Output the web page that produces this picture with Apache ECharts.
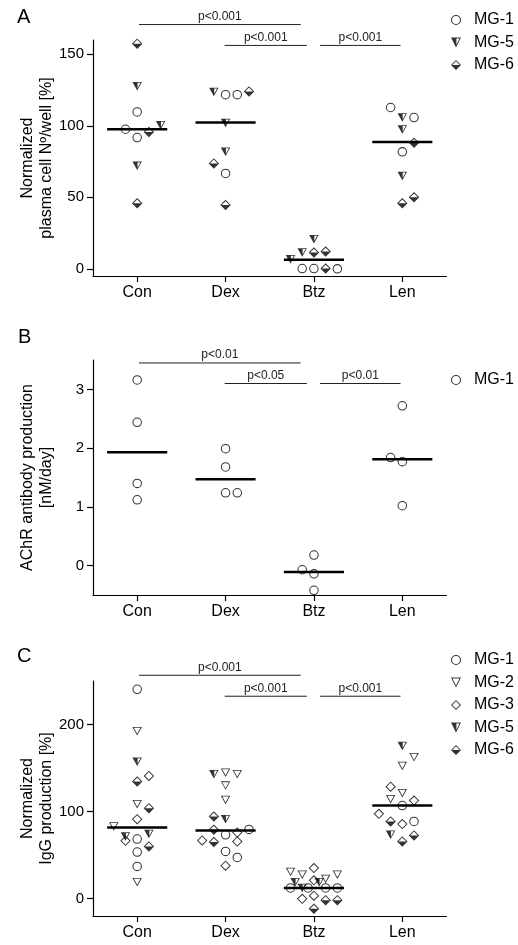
<!DOCTYPE html>
<html><head><meta charset="utf-8">
<script src="https://cdn.jsdelivr.net/npm/echarts@6/dist/echarts.min.js"></script>
<style>html,body{margin:0;padding:0;background:#fff}#c{width:518px;height:945px}</style>
</head><body><div id="c"></div><script>
// ---------- DATA ----------
const categories = ['Con', 'Dex', 'Btz', 'Len'];
// each point: [group (1..4), value, horizontal slot]
// Panel A: Normalized plasma cell N°/well [%]
const A_MG1 = [[1,109.7,0],[1,97.6,-1],[1,91.8,0],[2,121.8,0],[2,121.8,1],[2,66.7,0],[3,0.2,-1],[3,0.2,0],[3,0,2],[4,112.8,-1],[4,105.8,1],[4,81.8,0]];
const A_MG5 = [[1,127.6,0],[1,100.4,2],[1,72,0],[2,123.7,-1],[2,102,0],[2,81.8,0],[3,20.7,0],[3,11.4,-1],[3,6.7,-2],[4,105.8,0],[4,97.4,0],[4,65,0]];
const A_MG6 = [[1,157.4,0],[1,95.7,1],[1,45.8,0],[2,124,2],[2,73.7,-1],[2,44.6,0],[3,11.4,0],[3,12.1,1],[3,0.2,1],[4,88.1,1],[4,45.8,0],[4,50,1]];
const A_median = [97.6, 102.3, 6.3, 88.6];
const A_yTicks = [0, 50, 100, 150];
const A_pLabels = ['p<0.001', 'p<0.001', 'p<0.001'];
const A_pLevels = [170.8, 156.2, 156.2];

// Panel B: AChR antibody production [nM/day]
const B_MG1 = [[1,3.16,0],[1,2.44,0],[1,1.40,0],[1,1.12,0],[2,1.99,0],[2,1.68,0],[2,1.24,0],[2,1.24,1],[3,0.18,0],[3,-0.07,-1],[3,-0.14,0],[3,-0.42,0],[4,2.72,0],[4,1.84,-1],[4,1.77,0],[4,1.02,0]];
const B_median = [1.93, 1.47, -0.11, 1.81];
const B_yTicks = [0, 1, 2, 3];
const B_pLabels = ['p<0.01', 'p<0.05', 'p<0.01'];
const B_pLevels = [3.45, 3.10, 3.10];

// Panel C: Normalized IgG production [%]
const C_MG1 = [[1,240.5,0],[1,68.4,0],[1,53.5,0],[1,37,0],[2,73.3,0],[2,79.5,2],[2,54.2,0],[2,47.3,1],[3,12.2,-2],[3,12.2,-0.5],[3,12.2,1],[3,12.2,2],[4,106.9,0],[4,88.6,1]];
const C_MG2 = [[1,192.4,0],[1,108.5,0],[1,82.8,-2],[1,18.7,0],[2,144.7,0],[2,142.8,1],[2,129.8,0],[2,113.4,0],[3,30.6,-2],[3,27.5,-1],[3,27.5,2],[3,22.6,1],[4,162.3,1],[4,152.3,0],[4,121.1,0],[4,114.2,-1]];
const C_MG3 = [[1,140.9,1],[1,91.3,0],[1,66.4,-1],[2,66.8,-2],[2,75.9,1],[2,65.6,1],[2,37.8,0],[3,35.1,0],[3,21,0],[3,3.4,0],[3,-0.3,-1],[4,128.6,-1],[4,112.6,1],[4,97.4,-2],[4,85.6,0]];
const C_MG5 = [[1,157.3,0],[1,71.4,-1],[1,74.1,1],[2,142.8,-1],[2,91.3,0],[3,18.7,-1.6],[3,18.7,0.45],[3,12.2,-1],[4,175.3,0],[4,73.3,-1]];
const C_MG6 = [[1,134.4,0],[1,103.9,1],[1,59.9,1],[2,94.3,-1],[2,79,-1],[2,64.9,-1],[3,-1.9,1],[3,-1.9,2],[3,-11.8,0],[4,88.6,-1],[4,72.5,1],[4,65.6,0]];
const C_median = [81.7, 78.3, 12.2, 106.9];
const C_yTicks = [0, 100, 200];
const C_pLabels = ['p<0.001', 'p<0.001', 'p<0.001'];
const C_pLevels = [256.6, 232.5, 232.5];

// comparison bracket spans (x extents in group units)
const pSpans = [[1.02, 2.85], [1.99, 2.92], [3.07, 3.98]];

// ---------- STYLE ----------
const FONT = '"Liberation Sans", Arial, Helvetica, sans-serif';
const SLOT = 0.1325;
const MED_HW = 0.34;
const SYM = {
  'MG-1': { path: 'path://M50,0A50,50,0,1,1,50,100A50,50,0,1,1,50,0ZM50,11A39,39,0,1,0,50,89A39,39,0,1,0,50,11Z', size: [9.5, 9.5] },
  'MG-2': { path: 'path://M0,0L100,0L50,100ZM15,9L50,80L85,9Z', size: [9.5, 8.5] },
  'MG-3': { path: 'path://M50,0L100,50L50,100L0,50ZM50,13L13,50L50,87L87,50Z', size: [10.5, 10.5] },
  'MG-5': { path: 'path://M0,0L100,0L50,100ZM54,9L54,72L85,9Z', size: [9.5, 8.5] },
  'MG-6': { path: 'path://M50,0L100,50L50,100L0,50ZM50,13L13,50L87,50Z', size: [10.5, 10.5] }
};

const grids = [
  { left: 93, top: 40, width: 353.5, height: 236 },
  { left: 93, top: 360, width: 353.5, height: 235 },
  { left: 93, top: 681, width: 353.5, height: 235 }
];
const yRanges = [[-5, 160], [-0.5, 3.5], [-20, 250]];
const yTicks = [A_yTicks, B_yTicks, C_yTicks];
const yNames = ['Normalized\nplasma cell Nº/well [%]', 'AChR antibody production\n[nM/day]', 'Normalized\nIgG production [%]'];

const axisLine = { show: true, onZero: false, lineStyle: { color: '#000', width: 1.2 } };

const xAxes = grids.map((g, i) => ({
  type: 'value', gridIndex: i, min: 0.5, max: 4.5,
  axisLine: axisLine,
  axisTick: { show: true, length: 6, lineStyle: { color: '#000', width: 1.2 }, customValues: [1, 2, 3, 4] },
  axisLabel: { customValues: [1, 2, 3, 4], formatter: v => categories[Math.round(v) - 1] || '', color: '#000', fontSize: 16, fontFamily: FONT, margin: 9 },
  splitLine: { show: false }
}));
const yAxes = grids.map((g, i) => ({
  type: 'value', gridIndex: i, min: yRanges[i][0], max: yRanges[i][1],
  axisLine: axisLine,
  axisTick: { show: true, length: 6, lineStyle: { color: '#000', width: 1.2 }, customValues: yTicks[i] },
  axisLabel: { customValues: yTicks[i], color: '#000', fontSize: 15, fontFamily: FONT, margin: 9 },
  splitLine: { show: false },
  name: yNames[i], nameLocation: 'middle', nameGap: 37, nameMoveOverlap: false,
  nameTextStyle: { color: '#000', fontSize: 16, fontFamily: FONT, lineHeight: 19 }
}));

function scatter(name, arr, idx) {
  return {
    type: 'scatter', name: name, xAxisIndex: idx, yAxisIndex: idx,
    symbol: SYM[name].path, symbolSize: SYM[name].size,
    itemStyle: { color: '#000' }, clip: false, silent: true, z: 3,
    emphasis: { disabled: true },
    data: arr.map(p => [p[0] + p[2] * SLOT, p[1]])
  };
}
function medians(meds, idx) {
  return {
    type: 'custom', xAxisIndex: idx, yAxisIndex: idx, clip: false, silent: true, z: 2,
    data: meds.map((m, k) => [k + 1, m]), encode: { x: 0, y: 1 },
    renderItem: (params, api) => {
      const c = api.coord([api.value(0), api.value(1)]);
      const hw = api.size([MED_HW, 0])[0];
      return { type: 'line', shape: { x1: c[0] - hw, y1: c[1], x2: c[0] + hw, y2: c[1] }, style: { stroke: '#000', lineWidth: 2.5 } };
    }
  };
}
function brackets(labels, levels, idx) {
  return {
    type: 'custom', xAxisIndex: idx, yAxisIndex: idx, clip: false, silent: true, z: 2,
    data: pSpans.map((s, k) => [s[0], s[1], levels[k], k]), encode: { x: [0, 1], y: 2 },
    renderItem: (params, api) => {
      const p1 = api.coord([api.value(0), api.value(2)]);
      const p2 = api.coord([api.value(1), api.value(2)]);
      return {
        type: 'group', children: [
          { type: 'line', shape: { x1: p1[0], y1: p1[1], x2: p2[0], y2: p2[1] }, style: { stroke: '#222', lineWidth: 1 } },
          { type: 'text', style: { text: labels[api.value(3)], x: (p1[0] + p2[0]) / 2, y: p1[1] - 8, fill: '#222', font: '12px ' + FONT, align: 'center', verticalAlign: 'middle', textAlign: 'center', textVerticalAlign: 'middle' } }
        ]
      };
    }
  };
}

function legend(names, top) {
  return {
    orient: 'vertical', left: 446, top: top, selectedMode: false,
    itemWidth: 10, itemHeight: 10, itemGap: 6.5,
    textStyle: { color: '#000', fontSize: 16, fontFamily: FONT, lineHeight: 16, padding: [0, 0, 0, 8] },
    data: names.map(n => ({ name: n, icon: SYM[n].path }))
  };
}

const series = [
  scatter('MG-1', A_MG1, 0), scatter('MG-5', A_MG5, 0), scatter('MG-6', A_MG6, 0),
  medians(A_median, 0), brackets(A_pLabels, A_pLevels, 0),
  scatter('MG-1', B_MG1, 1), medians(B_median, 1), brackets(B_pLabels, B_pLevels, 1),
  scatter('MG-1', C_MG1, 2), scatter('MG-2', C_MG2, 2), scatter('MG-3', C_MG3, 2),
  scatter('MG-5', C_MG5, 2), scatter('MG-6', C_MG6, 2),
  medians(C_median, 2), brackets(C_pLabels, C_pLevels, 2)
];

const chart = echarts.init(document.getElementById('c'), null, { renderer: 'canvas' });
chart.setOption({
  animation: false,
  backgroundColor: '#fff',
  grid: grids,
  xAxis: xAxes,
  yAxis: yAxes,
  legend: [legend(['MG-1', 'MG-5', 'MG-6'], 7), legend(['MG-1'], 367), legend(['MG-1', 'MG-2', 'MG-3', 'MG-5', 'MG-6'], 647)],
  graphic: [
    { type: 'text', left: 17, top: 7, style: { text: 'A', font: '20px ' + FONT, fill: '#000' } },
    { type: 'text', left: 18, top: 327, style: { text: 'B', font: '20px ' + FONT, fill: '#000' } },
    { type: 'text', left: 17, top: 646, style: { text: 'C', font: '20px ' + FONT, fill: '#000' } }
  ],
  series: series
});
</script></body></html>
